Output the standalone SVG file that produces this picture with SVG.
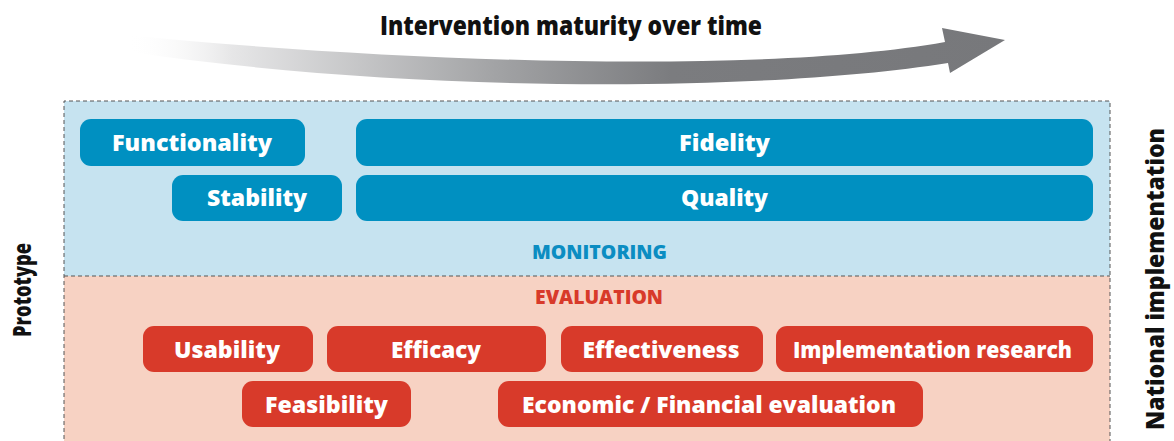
<svg xmlns="http://www.w3.org/2000/svg" width="1174" height="441" viewBox="0 0 1174 441">
<style>
.lbl{font-family:"Open Sans","Liberation Sans",sans-serif;font-weight:800;font-size:22px;fill:#fff;text-anchor:middle}
.blue{fill:#0090c1}
.red{fill:#d83a2a}
.sec{font-family:"Open Sans","Liberation Sans",sans-serif;font-weight:800;font-size:19px;text-anchor:middle}
.side{font-family:"Open Sans","Liberation Sans",sans-serif;font-weight:800;font-size:24px;fill:#111;text-anchor:middle}
</style>
<defs>
<linearGradient id="ag" x1="127" y1="0" x2="1005" y2="0" gradientUnits="userSpaceOnUse">
<stop offset="0" stop-color="#ffffff" stop-opacity="0"/>
<stop offset="0.12" stop-color="#e6e6e7"/>
<stop offset="0.42" stop-color="#a2a3a5"/>
<stop offset="0.62" stop-color="#7b7c7f"/>
<stop offset="1" stop-color="#77787b"/>
</linearGradient>
</defs>
<rect width="1174" height="441" fill="#fff"/>
<g id="arrow">
<path d="M125,35 C400,62 760,75 945,42 L942,28 L1005,40 L950,73 L948,63 C760,93 400,93 125,51 Z" fill="url(#ag)"/>
<text x="571" y="35" textLength="382" lengthAdjust="spacingAndGlyphs" style="font-family:'Open Sans','Liberation Sans',sans-serif;font-weight:800;font-size:26px;fill:#111;text-anchor:middle">Intervention maturity over time</text>
</g>
<g id="monitoring">
<rect x="64" y="101" width="1046" height="175" fill="#c6e3f0"/>
<text class="sec" x="599.5" y="259" textLength="135" lengthAdjust="spacingAndGlyphs" fill="#0b8dc2">MONITORING</text>
</g>
<g id="evaluation">
<rect x="64" y="276" width="1046" height="170" fill="#f7d2c3"/>
<text class="sec" x="599" y="304" textLength="128" lengthAdjust="spacingAndGlyphs" fill="#d83a2a">EVALUATION</text>
</g>
<g id="frame" fill="none" stroke="#555" stroke-width="1" stroke-dasharray="4 3">
<path d="M64,446 V101 H1110 V446"/>
<path d="M64,276 H1110"/>
</g>
<g id="functionality"><rect class="blue" x="80" y="119" width="225" height="47" rx="11"/><text class="lbl" x="192" y="151" textLength="160" lengthAdjust="spacingAndGlyphs">Functionality</text></g>
<g id="stability"><rect class="blue" x="172" y="175" width="170" height="46" rx="11"/><text class="lbl" x="257" y="206" textLength="100" lengthAdjust="spacingAndGlyphs">Stability</text></g>
<g id="fidelity"><rect class="blue" x="356" y="119" width="737" height="47" rx="11"/><text class="lbl" x="724.5" y="151" textLength="91" lengthAdjust="spacingAndGlyphs">Fidelity</text></g>
<g id="quality"><rect class="blue" x="356" y="175" width="737" height="46" rx="11"/><text class="lbl" x="724.5" y="206" textLength="87" lengthAdjust="spacingAndGlyphs">Quality</text></g>
<g id="usability"><rect class="red" x="143" y="326" width="170" height="46" rx="11"/><text class="lbl" x="227" y="358" textLength="106" lengthAdjust="spacingAndGlyphs">Usability</text></g>
<g id="efficacy"><rect class="red" x="327" y="326" width="219" height="46" rx="11"/><text class="lbl" x="436" y="358" textLength="90" lengthAdjust="spacingAndGlyphs">Efficacy</text></g>
<g id="effectiveness"><rect class="red" x="561" y="326" width="202" height="46" rx="11"/><text class="lbl" x="661" y="358" textLength="157" lengthAdjust="spacingAndGlyphs">Effectiveness</text></g>
<g id="implementation-research"><rect class="red" x="776" y="326" width="317" height="46" rx="11"/><text class="lbl" x="932.5" y="358" textLength="279" lengthAdjust="spacingAndGlyphs">Implementation research</text></g>
<g id="feasibility"><rect class="red" x="242" y="381" width="169" height="46" rx="11"/><text class="lbl" x="326.5" y="413" textLength="123" lengthAdjust="spacingAndGlyphs">Feasibility</text></g>
<g id="economic"><rect class="red" x="498" y="381" width="425" height="46" rx="11"/><text class="lbl" x="709" y="413" textLength="374" lengthAdjust="spacingAndGlyphs">Economic / Financial evaluation</text></g>
<g id="prototype"><text class="side" transform="translate(31,290) rotate(-90)" textLength="94" lengthAdjust="spacingAndGlyphs">Prototype</text></g>
<g id="national-implementation"><text class="side" transform="translate(1164,279) rotate(-90)" textLength="302" lengthAdjust="spacingAndGlyphs">National implementation</text></g>
<g id="connectors"></g>
</svg>
